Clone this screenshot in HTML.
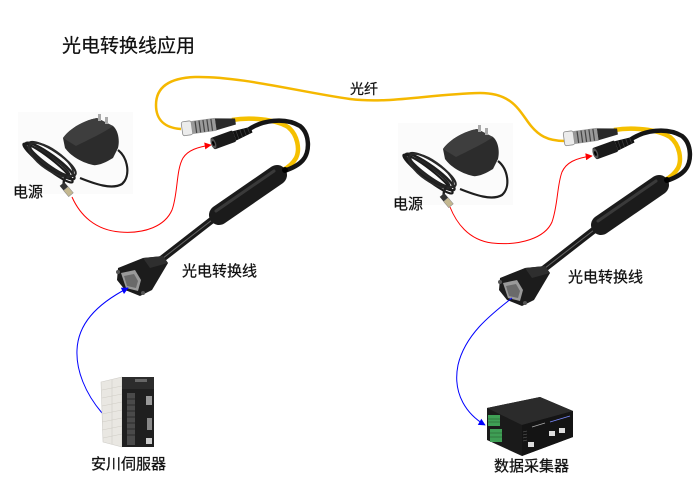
<!DOCTYPE html>
<html><head><meta charset="utf-8"><style>
html,body{margin:0;padding:0;background:#fff;}
svg{display:block;}
text{font-family:"Liberation Sans","Noto Sans CJK SC",sans-serif;fill:#111;stroke:#111;stroke-width:0.25;}
</style></head><body>
<svg width="700" height="495" viewBox="0 0 700 495" xmlns="http://www.w3.org/2000/svg">
<defs>
<marker id="ar" viewBox="0 0 10 10" refX="9" refY="5" markerWidth="9" markerHeight="7" markerUnits="userSpaceOnUse" orient="auto"><path d="M0,0 L10,5 L0,10 Z" fill="#ff0000"/></marker>
<marker id="ab" viewBox="0 0 10 10" refX="9" refY="5" markerWidth="9" markerHeight="7" markerUnits="userSpaceOnUse" orient="auto"><path d="M0,0 L10,5 L0,10 Z" fill="#0000ff"/></marker>
<g id="adp">
  <rect x="18" y="112" width="115" height="82" fill="#fbfbfb"/>
  <path d="M118,150 C128,158 131,176 122,184 C112,190 95,184 80,178" stroke="#1e1e1e" stroke-width="2.2" fill="none"/>
  <ellipse cx="50" cy="161" rx="30" ry="6" transform="rotate(36 50 161)" stroke="#1e1e1e" stroke-width="2.4" fill="none"/>
  <ellipse cx="52" cy="159" rx="28" ry="8" transform="rotate(34 52 159)" stroke="#252525" stroke-width="2.2" fill="none"/>
  <ellipse cx="48" cy="163" rx="31" ry="5" transform="rotate(38 48 163)" stroke="#1a1a1a" stroke-width="2.2" fill="none"/>
  <ellipse cx="51" cy="160" rx="26" ry="10" transform="rotate(35 51 160)" stroke="#2a2a2a" stroke-width="1.8" fill="none"/>
  <ellipse cx="50" cy="161" rx="24" ry="4" transform="rotate(36 50 161)" stroke="#222" stroke-width="1.8" fill="none"/>
  <path d="M66,176 C64,180 63,182 64,186" stroke="#1e1e1e" stroke-width="2.4" fill="none"/>
  <g transform="translate(62,184) rotate(50)">
    <rect x="0" y="-3" width="6" height="6" fill="#333"/>
    <rect x="6" y="-3" width="8" height="6" fill="#c4b890" stroke="#888" stroke-width="0.5"/>
  </g>
  <path d="M63,138 C70,128 85,120 97,118 L113,126 C118,130 120,140 118,148 L113,158 C105,163 97,166 93,165 C80,162 70,155 65,148 Z" fill="#2c2c2c"/>
  <path d="M63,138 C70,128 85,120 97,118 L113,126 C105,132 88,140 76,146 Z" fill="#3e3e3e"/>
  <rect x="98" y="114" width="3" height="7" fill="#aaa"/>
  <rect x="105" y="117" width="3" height="7" fill="#aaa"/>
</g>
<g id="asm">
  <path d="M232,120 C250,117 275,119 288,127 C298,135 300,150 296,158 C292,165 287,168 283,170" stroke="#f5c000" stroke-width="4.5" fill="none"/>
  <path d="M248,130 C262,120 285,117 300,126 C310,134 310,152 303,160 C298,166 290,169 284,171" stroke="#151515" stroke-width="4.5" fill="none"/>
  <line x1="212" y1="220" x2="158" y2="262" stroke="#1a1a1a" stroke-width="7"/>
  <line x1="212" y1="220" x2="158" y2="262" stroke="#666" stroke-width="1"/>
  <line x1="277" y1="175" x2="219" y2="215" stroke="#1b1b1b" stroke-width="20" stroke-linecap="round"/>
  <line x1="274" y1="171" x2="216" y2="211" stroke="#3a3a3a" stroke-width="3" stroke-linecap="round"/>
  <circle cx="285" cy="170" r="3" fill="#000"/>
  <g transform="translate(182,129) rotate(-8)">
    <rect x="0" y="-7" width="10" height="14" rx="2" fill="#ececec" stroke="#8a8a8a" stroke-width="0.8"/>
    <rect x="10" y="-6.5" width="24" height="13" fill="#9a9a9a"/>
    <g stroke="#444" stroke-width="1.2">
      <line x1="14" y1="-6" x2="14" y2="6"/><line x1="18" y1="-6" x2="18" y2="6"/>
      <line x1="22" y1="-6" x2="22" y2="6"/><line x1="26" y1="-6" x2="26" y2="6"/>
      <line x1="30" y1="-6" x2="30" y2="6"/>
    </g>
    <path d="M34,-6 L54,-3 L54,3 L34,6 Z" fill="#2a2a2a"/>
  </g>
  <g transform="translate(212,144) rotate(-20)">
    <rect x="0" y="-6" width="24" height="12" rx="2" fill="#1a1a1a"/>
    <ellipse cx="1.5" cy="0" rx="2.5" ry="5.5" fill="#555"/>
    <ellipse cx="1.5" cy="0" rx="1.2" ry="2.5" fill="#000"/>
    <path d="M24,-5 L42,-3 L42,3 L24,5Z" fill="#111"/>
    <g stroke="#3a3a3a" stroke-width="0.8">
      <line x1="27" y1="-4.5" x2="27" y2="4.5"/><line x1="31" y1="-4" x2="31" y2="4"/>
      <line x1="35" y1="-3.7" x2="35" y2="3.7"/><line x1="39" y1="-3.3" x2="39" y2="3.3"/>
    </g>
  </g>
  <polygon points="118,268 143,258 163,256 168,263 152,290 140,296 125,290 117,280" fill="#1c1c1c"/>
  <polygon points="143,258 163,256 168,263 150,268" fill="#2e2e2e"/>
  <polygon points="121,273 135,270 141,280 138,291 126,288" fill="#9a9a9a"/>
  <polygon points="124,276 134,274 138,281 136,288 127,286" fill="#6a6a6a"/>
  <circle cx="118" cy="272" r="2" fill="#555"/>
  <circle cx="143" cy="293" r="2" fill="#555"/>
</g>
</defs>

<text x="62" y="52" font-size="19">光电转换线应用</text>

<!-- long fiber -->
<path d="M181,129 C165,128 156,120 156,105 C156,88 168,78 195,77 C240,76 300,92 350,99 C390,104 430,94 480,93 C510,93 518,108 528,122 C538,136 548,141 565,141" stroke="#f5b800" stroke-width="2.5" fill="none"/>
<text x="350" y="94" font-size="14">光纤</text>

<use href="#adp"/>
<use href="#adp" transform="translate(380,11)"/>
<use href="#asm"/>
<use href="#asm" transform="translate(382,10)"/>

<!-- red power lines -->
<path d="M72,197 C80,215 95,230 120,232 C145,234 165,226 172,210 C178,194 176,170 183,158 C188,150 198,147 211,145" stroke="#ff0000" stroke-width="1" fill="none" marker-end="url(#ar)"/>
<path d="M450,207 C456,222 468,240 492,243 C520,246 545,238 552,222 C558,205 557,185 562,172 C566,163 575,158 592,156" stroke="#ff0000" stroke-width="1" fill="none" marker-end="url(#ar)"/>

<!-- blue lines -->
<path d="M102,413 C85,393 76,370 77,350 C78,325 95,305 128,288" stroke="#0000ff" stroke-width="1" fill="none" marker-end="url(#ab)"/>
<path d="M512,298 C490,315 465,335 458,365 C452,395 468,415 485,425" stroke="#0000ff" stroke-width="1" fill="none" marker-end="url(#ab)"/>

<!-- servo drive -->
<polygon points="101,382 122,377 122,447 103,442" fill="#e9e7e2" stroke="#cfcdc8" stroke-width="0.6"/>
<g stroke="#cfcdc6" stroke-width="0.6">
  <line x1="102" y1="390" x2="122" y2="386"/><line x1="102" y1="398" x2="122" y2="394"/>
  <line x1="102" y1="406" x2="122" y2="402"/><line x1="102" y1="414" x2="122" y2="410"/>
  <line x1="102" y1="422" x2="122" y2="418"/><line x1="102" y1="430" x2="122" y2="426"/>
  <line x1="103" y1="438" x2="122" y2="434"/><line x1="112" y1="380" x2="112" y2="444"/>
</g>
<rect x="122" y="377" width="32" height="70" fill="#1f1f1f"/>
<rect x="122" y="377" width="32" height="12" fill="#2c2c2c"/>
<rect x="135" y="379" width="12" height="3" fill="#666"/>
<rect x="127" y="393" width="8" height="52" fill="#4a4a4a"/>
<g stroke="#222" stroke-width="0.8">
  <line x1="127" y1="399" x2="135" y2="399"/><line x1="127" y1="405" x2="135" y2="405"/>
  <line x1="127" y1="411" x2="135" y2="411"/><line x1="127" y1="417" x2="135" y2="417"/>
  <line x1="127" y1="423" x2="135" y2="423"/><line x1="127" y1="429" x2="135" y2="429"/>
  <line x1="127" y1="435" x2="135" y2="435"/>
</g>
<rect x="146" y="396" width="6" height="9" fill="#999"/>
<rect x="147" y="418" width="5" height="12" fill="#888"/>
<rect x="146" y="438" width="6" height="6" fill="#ccc"/>
<text x="91" y="469" font-size="15">安川伺服器</text>

<!-- data collector -->
<polygon points="487,408 540,397 573,411 573,437 522,456 487,440" fill="#1a1a1a"/>
<polygon points="487,408 540,397 573,411 522,425" fill="#2b2b2b"/>
<polygon points="522,425 573,411 573,437 522,456" fill="#141414"/>
<rect x="488" y="415" width="12" height="11" fill="#3f9f55"/>
<rect x="490" y="429" width="12" height="13" fill="#3f9f55"/>
<g stroke="#2a6a38" stroke-width="0.7">
  <line x1="488" y1="419" x2="500" y2="419"/><line x1="488" y1="422" x2="500" y2="422"/>
  <line x1="490" y1="433" x2="502" y2="433"/><line x1="490" y1="437" x2="502" y2="437"/>
</g>
<rect x="549" y="431" width="6" height="5" fill="#ddd"/>
<rect x="559" y="428" width="6" height="5" fill="#ddd"/>
<rect x="528" y="442" width="6" height="5" fill="#ddd"/>
<line x1="532" y1="427" x2="545" y2="423" stroke="#aaa" stroke-width="0.8"/>
<line x1="550" y1="422" x2="570" y2="416" stroke="#7a8aff" stroke-width="0.8"/>
<g stroke="#666" stroke-width="0.6">
  <line x1="523" y1="432" x2="527" y2="431"/><line x1="523" y1="435" x2="527" y2="434"/>
  <line x1="523" y1="438" x2="527" y2="437"/><line x1="523" y1="441" x2="527" y2="440"/>
</g>
<text x="494" y="471" font-size="15">数据采集器</text>

<!-- labels -->
<text x="13" y="197" font-size="15">电源</text>
<text x="393" y="209" font-size="15">电源</text>
<text x="182" y="276" font-size="15">光电转换线</text>
<text x="568" y="282" font-size="15">光电转换线</text>
</svg>
</body></html>
